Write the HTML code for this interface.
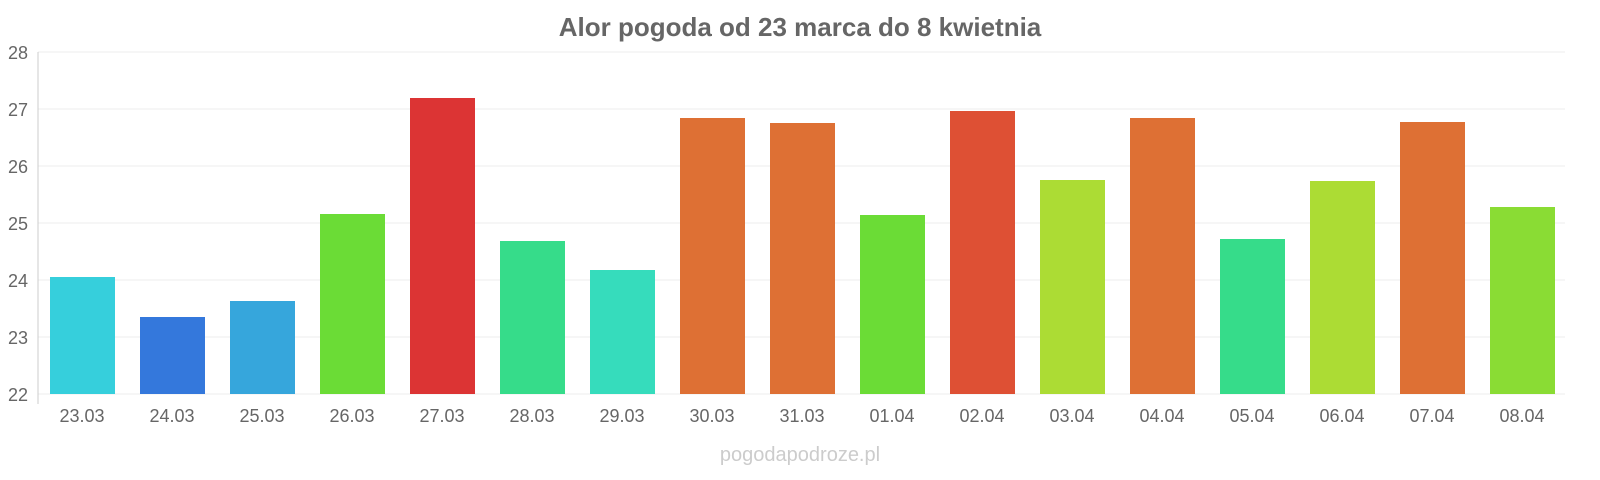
<!DOCTYPE html>
<html><head><meta charset="utf-8"><style>
html,body{margin:0;padding:0;background:#fff;}
svg{display:block;font-family:"Liberation Sans",sans-serif;}
</style></head><body>
<svg width="1600" height="480" viewBox="0 0 1600 480" xmlns="http://www.w3.org/2000/svg">
<rect width="1600" height="480" fill="#fff"/>
<text x="800" y="36" text-anchor="middle" font-size="26" font-weight="bold" fill="#666">Alor pogoda od 23 marca do 8 kwietnia</text>
<g stroke="#eee" stroke-width="1">
<line x1="38" x2="1565" y1="52" y2="52"/><line x1="38" x2="1565" y1="109" y2="109"/>
<line x1="38" x2="1565" y1="166" y2="166"/><line x1="38" x2="1565" y1="223" y2="223"/>
<line x1="38" x2="1565" y1="280" y2="280"/><line x1="38" x2="1565" y1="337" y2="337"/>
<line x1="38" x2="1565" y1="394" y2="394"/>
</g>
<line x1="38" x2="38" y1="52" y2="404" stroke="#ccc"/>
<g font-size="18" fill="#666" text-anchor="end">
<text x="28" y="59">28</text><text x="28" y="116">27</text><text x="28" y="173">26</text>
<text x="28" y="230">25</text><text x="28" y="287">24</text><text x="28" y="344">23</text><text x="28" y="401">22</text>
</g>
<g>
<rect x="50" y="277" width="65" height="117" fill="#36cfdc"/>
<rect x="140" y="317" width="65" height="77" fill="#3478dc"/>
<rect x="230" y="301" width="65" height="93" fill="#36a6dc"/>
<rect x="320" y="214" width="65" height="180" fill="#6bdc36"/>
<rect x="410" y="98" width="65" height="296" fill="#dc3434"/>
<rect x="500" y="241" width="65" height="153" fill="#36dc8a"/>
<rect x="590" y="270" width="65" height="124" fill="#36dcbc"/>
<rect x="680" y="118" width="65" height="276" fill="#de7034"/>
<rect x="770" y="123" width="65" height="271" fill="#de7034"/>
<rect x="860" y="215" width="65" height="179" fill="#6bdc36"/>
<rect x="950" y="111" width="65" height="283" fill="#de5034"/>
<rect x="1040" y="180" width="65" height="214" fill="#acdc34"/>
<rect x="1130" y="118" width="65" height="276" fill="#de7034"/>
<rect x="1220" y="239" width="65" height="155" fill="#36dc8a"/>
<rect x="1310" y="181" width="65" height="213" fill="#acdc34"/>
<rect x="1400" y="122" width="65" height="272" fill="#de7034"/>
<rect x="1490" y="207" width="65" height="187" fill="#8adc34"/>
</g>
<g font-size="18" fill="#666" text-anchor="middle">
<text x="82" y="422">23.03</text><text x="172" y="422">24.03</text><text x="262" y="422">25.03</text>
<text x="352" y="422">26.03</text><text x="442" y="422">27.03</text><text x="532" y="422">28.03</text>
<text x="622" y="422">29.03</text><text x="712" y="422">30.03</text><text x="802" y="422">31.03</text>
<text x="892" y="422">01.04</text><text x="982" y="422">02.04</text><text x="1072" y="422">03.04</text>
<text x="1162" y="422">04.04</text><text x="1252" y="422">05.04</text><text x="1342" y="422">06.04</text>
<text x="1432" y="422">07.04</text><text x="1522" y="422">08.04</text>
</g>
<text x="800" y="461" text-anchor="middle" font-size="20" fill="#ccc">pogodapodroze.pl</text>
</svg>
</body></html>
